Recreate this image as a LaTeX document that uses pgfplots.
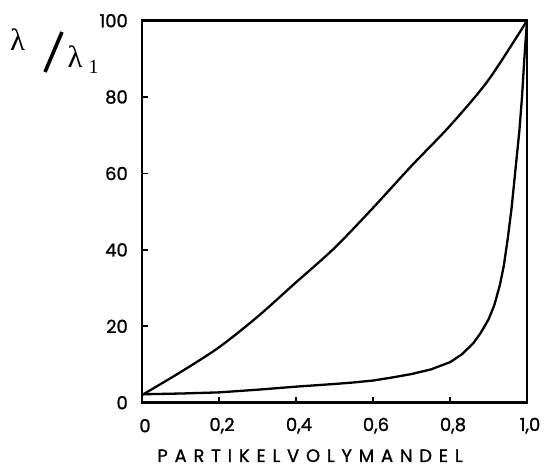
\documentclass[border=0pt]{standalone}
\usepackage{fontspec}
\setmainfont{Poppins}[FakeBold=1.2]
\newfontfamily\greek{Liberation Serif}
\usepackage{pgfplots}
\pgfplotsset{compat=1.18}
\begin{document}
\begin{tikzpicture}[x=1bp,y=1bp]
\useasboundingbox (-142,-67.3) rectangle (402,402.7);
\begin{axis}[
  at={(0,0)}, anchor=south west, scale only axis,
  width=385bp, height=382bp,
  xmin=0, xmax=1, ymin=0, ymax=100,
  axis line style={line width=2.4bp},
  every tick/.style={black, line width=1.8bp},
  tick align=inside, major tick length=6bp,
  xtick pos=bottom, ytick pos=left,
  xtick={0,0.2,0.4,0.6,0.8,1},
  xticklabels={0,{0,2},{0,4},{0,6},{0,8},{1,0}},
  ytick={0,20,40,60,80,100},
  yticklabels={0,20,40,60,80,100},
  tick label style={font=\fontsize{18}{18}\selectfont},
  xticklabel style={anchor=center, yshift=-23bp, xshift=3bp},
  yticklabel style={anchor=east, inner sep=0pt, xshift=-14bp},
]
\addplot[black, line width=2.3bp, smooth] coordinates {
  (0,2) (0.1,8) (0.2,14.5) (0.3,22.5) (0.4,31.5) (0.5,40.5)
  (0.6,51) (0.7,62) (0.8,72.5) (0.9,84.5) (1,100)};
\addplot[black, line width=2.3bp] coordinates {
  (0,2.2) (0.1,2.4) (0.2,2.7) (0.3,3.4) (0.4,4.2) (0.5,4.9) (0.55,5.3)
  (0.6,5.8) (0.65,6.6) (0.7,7.5) (0.75,8.7) (0.8,10.6) (0.83,12.6)
  (0.86,15.5) (0.88,18.3) (0.9,21.8) (0.915,25.5) (0.93,31) (0.94,36)
  (0.95,43) (0.96,51) (0.97,61) (0.98,71) (0.987,80) (0.993,90) (1,100)};
\end{axis}
% y label: lambda / lambda_1
\node[font=\greek\fontsize{31}{31}\selectfont] at (-124.5,362.7) {λ};
\draw[line width=3.6bp] (-97,330.7) -- (-80,370.7);
\node[font=\greek\fontsize{31}{31}\selectfont] at (-67,345.7) {λ};
\node[font=\greek\fontsize{20}{20}\selectfont] at (-48.5,336.2) {1};
% x label
\node[inner sep=0pt, font=\fontsize{18}{18}\selectfont\addfontfeature{LetterSpace=38}] at (168,-53) {PARTIKELVOLYMANDEL};
\end{tikzpicture}
\end{document}
